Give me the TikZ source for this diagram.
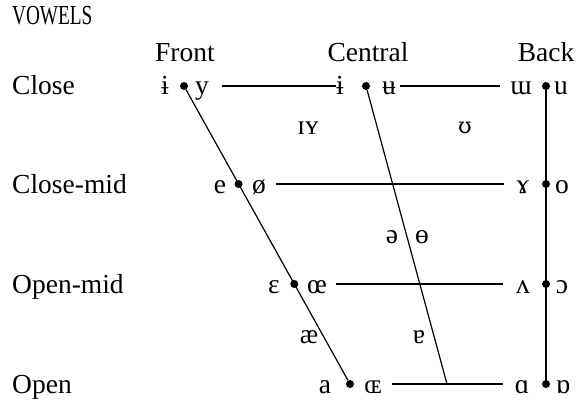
\documentclass[tikz,border=0pt]{standalone}
\usepackage{fontspec}
\setmainfont{Liberation Serif}
\newfontfamily\ipaalt{DejaVu Serif}
\begin{document}
\begin{tikzpicture}[x=1pt,y=-1pt,
  every node/.style={inner sep=0pt, font=\fontsize{27.5}{32}\selectfont},
  lbl/.style={anchor=base west},
  hdr/.style={anchor=base},
  sym/.style={anchor=base},
  vdot/.style={circle, fill, inner sep=0pt, minimum size=8pt},
  ln/.style={line width=1.2pt}]
\useasboundingbox (0,0) rectangle (578,401);
% titles
\node[lbl] (title) at (12,25) {\scalebox{0.7}[1]{VOWELS}};
\node[hdr] (front) at (185,62) {Front};
\node[hdr] (central) at (368,62) {Central};
\node[hdr] (back) at (546,62) {Back};
\node[lbl] (close) at (12,95) {Close};
\node[lbl] (closemid) at (12,193) {Close-mid};
\node[lbl] (openmid) at (12,293) {Open-mid};
\node[lbl] (open) at (12,393) {Open};
% dots
\node[vdot] (f1) at (184,86) {};
\node[vdot] (f2) at (238.6,184) {};
\node[vdot] (f3) at (294.3,284) {};
\node[vdot] (f4) at (350,384) {};
\node[vdot] (c1) at (366,86) {};
\node[vdot] (b1) at (546,86) {};
\node[vdot] (b2) at (546,184) {};
\node[vdot] (b3) at (546,284) {};
\node[vdot] (b4) at (546,384) {};
\coordinate (cend) at (447,384);
% row 1
\node[sym] (s1a) at (165,95) {ɨ};
\node[sym] (s1b) at (202,95) {y};
\node[sym] (s1c) at (340,95) {ɨ};
\node[sym] (s1d) at (389,95) {ʉ};
\node[sym] (s1e) at (521,95) {ɯ};
\node[sym] (s1f) at (561,95) {u};
% row 2
\node[sym] (s2a) at (220,193) {e};
\node[sym] (s2b) at (259,193) {ø};
\node[sym] (s2e) at (523,193) {ɤ};
\node[sym] (s2f) at (562,193) {o};
% row 3
\node[sym] (s3a) at (274,293) {ɛ};
\node[sym] (s3b) at (317,293) {œ};
\node[sym] (s3e) at (523,293) {ʌ};
\node[sym] (s3f) at (562,293) {ɔ};
% row 4
\node[sym] (s4a) at (325,393) {a};
\node[sym] (s4b) at (373,393) {ɶ};
\node[sym] (s4e) at (522,393) {ɑ};
\node[sym] (s4f) at (563,393) {ɒ};
% intermediate
\node[sym] (nc) at (308,135) {ɪʏ};
\node[sym, font=\ipaalt\fontsize{22}{26}\selectfont] (nb) at (465,134) {ʊ};
\node[sym] (m1) at (392,243) {ə};
\node[sym] (m2) at (422,243) {ɵ};
\node[sym] (o1) at (309,343) {æ};
\node[sym] (o2) at (419,343) {ɐ};
% lines
\draw[ln] (f1) -- (f4);
\draw[ln] (c1) -- (cend);
\draw[ln] (b1) -- (b4);
\draw[ln, shorten <=13pt] (s1b.east |- f1) -- (s1c.west |- f1);
\draw[ln, shorten <=4pt, shorten >=10pt] (s1d.east |- f1) -- (s1e.west |- f1);
\draw[ln, shorten <=10pt, shorten >=13pt] (s2b.east |- f2) -- (s2e.west |- f2);
\draw[ln, shorten <=9pt, shorten >=13pt] (s3b.east |- f3) -- (s3e.west |- f3);
\draw[ln, shorten <=10pt, shorten >=12pt] (s4b.east |- f4) -- (s4e.west |- f4);
\end{tikzpicture}
\end{document}
